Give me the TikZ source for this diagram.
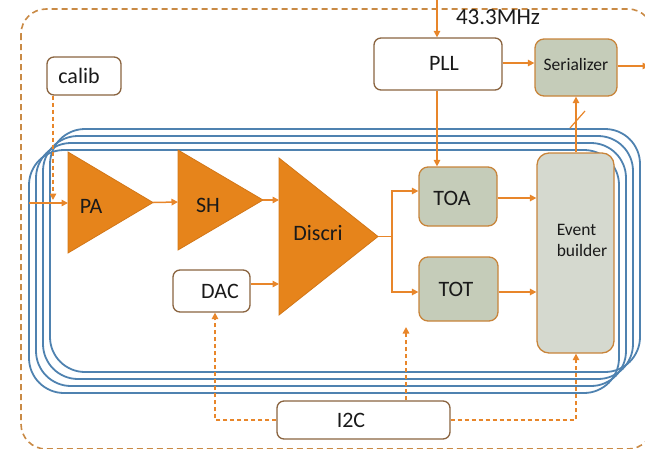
\documentclass[tikz,border=0pt]{standalone}
\usepackage{fontspec}
\setmainfont{Carlito}
\usetikzlibrary{arrows.meta}
\definecolor{org}{HTML}{E8862A}
\definecolor{trifill}{HTML}{E6841B}
\definecolor{tridraw}{HTML}{D27617}
\definecolor{brn}{HTML}{8A6440}
\definecolor{dashbrn}{HTML}{C98A45}
\definecolor{grn}{HTML}{C5CCB9}
\definecolor{grnlight}{HTML}{D5D9CF}
\definecolor{boxedge}{HTML}{C8843A}
\definecolor{blu}{HTML}{4F82B0}
\definecolor{txt}{HTML}{1A1A1A}
\begin{document}
\begin{tikzpicture}[x=1pt,y=-1pt,
  tip/.style={-{Triangle[length=6.5pt,width=6.5pt]}},
  conn/.style={draw=org, line width=1.5pt, tip},
  dconn/.style={draw=org, line width=1.5pt, tip, dash pattern=on 4pt off 3pt},
  wbox/.style={draw=brn, fill=white, line width=1.3pt, rounded corners=7pt, inner sep=0pt},
  gbox/.style={draw=boxedge, fill=grn, line width=1.3pt, rounded corners=9pt, inner sep=0pt},
  amp/.style={fill=trifill, draw=tridraw, line width=0.8pt, line join=miter},
  frame/.style={draw=blu, line width=1.8pt, rounded corners=35pt},
  lab/.style={text=txt, inner sep=0pt, font=\fontsize{22}{26}\selectfont},
  slab/.style={text=txt, inner sep=0pt, font=\fontsize{17.5}{21}\selectfont}
]
\useasboundingbox (0,0) rectangle (645,448);

% outer dashed boundary
\draw[dashbrn, line width=1.6pt, dash pattern=on 6pt off 4pt, rounded corners=25pt]
  (21,9) rectangle (653,449);

% blue stacked frames
\foreach \i in {0,1,2,3} {
  \draw[frame] ({50-7*\i},{129+7*\i}) rectangle ({640-7*\i},{372+7*\i});
}

% boxes
\node[wbox, minimum width=74pt, minimum height=38pt] (calib) at (84,76) {};
\node[lab] (calibT) at (79,76) {calib};

\node[wbox, minimum width=128pt, minimum height=52pt] (pll) at (438,64) {};
\node[lab] (pllT) at (444,63) {PLL};

\node[gbox, minimum width=82pt, minimum height=57pt] (ser) at (576,67.5) {};
\node[slab] (serT) at (576,64) {Serializer};

\node[wbox, minimum width=77pt, minimum height=42pt] (dac) at (211.5,291) {};
\node[lab] (dacT) at (220,291) {DAC};

\node[gbox, minimum width=78pt, minimum height=59pt] (toa) at (458,196.5) {};
\node[lab] (toaT) at (452,198) {TOA};

\node[gbox, minimum width=79pt, minimum height=64pt] (tot) at (458.5,289) {};
\node[lab] (totT) at (456,289) {TOT};

\node[draw=boxedge, fill=grnlight, line width=1.3pt, rounded corners=12pt,
      minimum width=77pt, minimum height=200pt, inner sep=0pt] (eb) at (575.5,253) {};
\node[slab, align=left] (ebT) at (582,240) {Event\\builder};

\node[wbox, minimum width=173pt, minimum height=38pt] (i2c) at (363.5,420) {};
\node[lab] (i2cT) at (351,420) {I2C};

% amplifiers
\path[amp] (68,152) -- (153,202.5) -- (68,253) -- cycle;
\node[lab] (pa) at (91,206) {PA};
\path[amp] (178,150) -- (263,200) -- (178,250) -- cycle;
\node[lab] (sh) at (208,205) {SH};
\path[amp] (279,158) -- (378,236.5) -- (279,315) -- cycle;
\node[lab] (discri) at (318,233) {Discri};

% coordinates for connector ends
\coordinate (inL) at (29,203);
\coordinate (paIn) at (68,203);
\coordinate (paOut) at (153,202.5);
\coordinate (shIn) at (178,202);
\coordinate (shOut) at (263,200);
\coordinate (diIn) at (279,200);
\coordinate (diIn2) at (279,284);
\coordinate (diOut) at (378,236.5);
\coordinate (split) at (392,236.5);
\coordinate (clk) at (437,-2);
\coordinate (serOut) at (649,66);
\coordinate (mid) at (406,327);

% solid connectors
\draw[conn] (inL) -- (paIn);
\draw[conn] (paOut) -- (shIn);
\draw[conn] (shOut) -- (diIn);
\draw[conn] (dac.east |- diIn2) -- (diIn2);
\draw[draw=org, line width=1.5pt] (diOut) -- (split);
\draw[conn] (split) |- (toa.west |- 0,191);
\draw[conn] (split) |- (tot.west |- 0,292);
\draw[conn] (toa.east |- 0,198) -- (eb.west |- 0,198);
\draw[conn] (tot.east |- 0,292) -- (eb.west |- 0,292);
\draw[conn] (clk) -- (clk |- pll.north);
\draw[conn] (pll.south -| clk) -- (toa.north -| clk);
\draw[conn] (pll.east |- 0,63) -- (ser.west |- 0,63);
\draw[conn] (ser.east |- serOut) -- (serOut);
\draw[conn] (eb.north -| 576,0) -- (ser.south -| 576,0);
\draw[draw=org, line width=1.2pt] (570,128) -- (585,111);
\node[text=txt, inner sep=0pt, font=\fontsize{23}{27}\selectfont] (mhz) at (498,17) {43.3MHz};

% dashed connectors
\draw[dconn] (calib.south -| 53,0) -- (53,200);
\draw[dconn] (i2c.west) -| (dac.south -| 215,0);
\draw[dconn] (i2c.north -| mid) -- (mid);
\draw[dconn] (i2c.east) -| (eb.south -| 576,0);

\end{tikzpicture}
\end{document}
